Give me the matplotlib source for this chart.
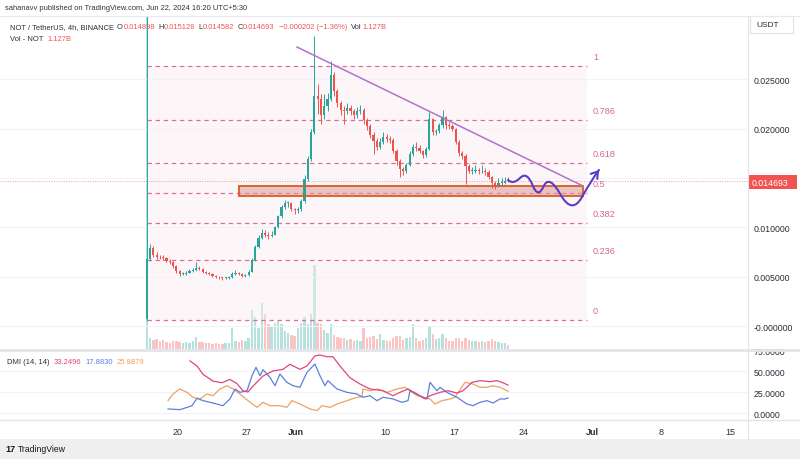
import numpy as np
import pandas as pd
import matplotlib
matplotlib.use("Agg")
import matplotlib.pyplot as plt
from matplotlib.patches import Rectangle, PathPatch
from matplotlib.path import Path
from matplotlib.lines import Line2D

plt.rcParams['font.family'] = ['Liberation Sans', 'DejaVu Sans']

# ---------------- data (8h candles) ----------------
first_open = 0.0008
closes = [0.00682, 0.00793, 0.00722, 0.00702, 0.00697, 0.00692, 0.00662, 0.00652, 0.00611, 0.00561,
          0.00530, 0.00535, 0.00545, 0.00561, 0.00571, 0.00591, 0.00581, 0.00551, 0.00540, 0.00530,
          0.00510, 0.00505, 0.00495, 0.00490, 0.00490, 0.00500, 0.00530, 0.00545, 0.00530, 0.00510,
          0.00520, 0.00551, 0.00672, 0.00803, 0.00894, 0.00944, 0.00924, 0.00914, 0.00929, 0.01005,
          0.01116, 0.01207, 0.01247, 0.01247, 0.01187, 0.01172, 0.01187, 0.01268, 0.01490, 0.01692,
          0.01965, 0.02328, 0.02298, 0.02136, 0.02227, 0.02298, 0.02540, 0.02379, 0.02258, 0.02187,
          0.02177, 0.02207, 0.02177, 0.02136, 0.02177, 0.02187, 0.02086, 0.02025, 0.01934, 0.01874,
          0.01813, 0.01864, 0.01914, 0.01894, 0.01884, 0.01773, 0.01671, 0.01591, 0.01571, 0.01631,
          0.01742, 0.01813, 0.01803, 0.01773, 0.01732, 0.01793, 0.02096, 0.01965, 0.01975, 0.02035,
          0.02116, 0.02035, 0.02025, 0.01995, 0.01864, 0.01753, 0.01722, 0.01621, 0.01571, 0.01571,
          0.01581, 0.01566, 0.01571, 0.01561, 0.01510, 0.01449, 0.01424, 0.01449, 0.01449, 0.01470,
          0.014693]
highs = [0.0320, 0.0083, 0.0081, 0.0075, 0.0072, 0.0072, 0.0070, 0.0068, 0.0066, 0.0062,
         0.0057, 0.0055, 0.0056, 0.0058, 0.0059, 0.0065, 0.0061, 0.0059, 0.0056, 0.0055,
         0.0054, 0.0052, 0.0051, 0.0050, 0.0050, 0.0051, 0.0055, 0.0057, 0.0055, 0.0054,
         0.0053, 0.0057, 0.0069, 0.0082, 0.0092, 0.0098, 0.0097, 0.0095, 0.0096, 0.0102,
         0.0113, 0.0123, 0.0128, 0.0127, 0.0126, 0.0120, 0.0121, 0.0129, 0.0153, 0.0172,
         0.0200, 0.0293, 0.0245, 0.0235, 0.0235, 0.0236, 0.0268, 0.0257, 0.0240, 0.0228,
         0.0223, 0.0226, 0.0224, 0.0220, 0.0222, 0.0224, 0.0221, 0.0211, 0.0205, 0.0196,
         0.0190, 0.0190, 0.0196, 0.0194, 0.0192, 0.0190, 0.0179, 0.0169, 0.0161, 0.0165,
         0.0177, 0.0184, 0.0186, 0.0183, 0.0178, 0.0181, 0.0217, 0.0211, 0.0200, 0.0206,
         0.0219, 0.0213, 0.0207, 0.0205, 0.0201, 0.0188, 0.0177, 0.0174, 0.0164, 0.0161,
         0.0163, 0.0160, 0.0163, 0.0160, 0.0158, 0.0152, 0.0147, 0.0150, 0.0150, 0.0151,
         0.015128]
lows = [0.0006, 0.0066, 0.0070, 0.0068, 0.0068, 0.0067, 0.0065, 0.0063, 0.0059, 0.0054,
        0.0051, 0.0052, 0.0052, 0.0054, 0.0055, 0.0056, 0.0057, 0.0054, 0.0053, 0.0052,
        0.0050, 0.0049, 0.0048, 0.0047, 0.0048, 0.0048, 0.0049, 0.0052, 0.0052, 0.0050,
        0.0050, 0.0051, 0.0055, 0.0066, 0.0079, 0.0088, 0.0090, 0.0088, 0.0090, 0.0092,
        0.0099, 0.0110, 0.0119, 0.0121, 0.0117, 0.0114, 0.0115, 0.0117, 0.0125, 0.0147,
        0.0167, 0.0194, 0.0215, 0.0205, 0.0210, 0.0218, 0.0228, 0.0233, 0.0222, 0.0214,
        0.0205, 0.0215, 0.0214, 0.0210, 0.0211, 0.0215, 0.0205, 0.0198, 0.0190, 0.0174,
        0.0178, 0.0179, 0.0184, 0.0186, 0.0185, 0.0175, 0.0163, 0.0151, 0.0153, 0.0155,
        0.0162, 0.0172, 0.0177, 0.0175, 0.0170, 0.0171, 0.0178, 0.0193, 0.0193, 0.0195,
        0.0201, 0.0200, 0.0199, 0.0197, 0.0184, 0.0172, 0.0169, 0.0144, 0.0155, 0.0154,
        0.0155, 0.0154, 0.0155, 0.0153, 0.0149, 0.0140, 0.0139, 0.0141, 0.0142, 0.0144,
        0.014582]
volumes_b = [150, 3.0, 2.5, 2.8, 2.2, 2.6, 2.0, 1.8, 2.2, 2.4,
             1.9, 1.7, 2.0, 1.8, 2.2, 3.4, 1.9, 2.0, 1.6, 1.8,
             1.5, 1.7, 1.4, 1.5, 1.6, 1.8, 6.0, 2.4, 2.0, 2.6,
             2.2, 3.2, 11.0, 9.0, 6.0, 13.0, 10.0, 7.0, 6.5, 7.5,
             8.0, 7.0, 5.0, 4.5, 4.0, 3.8, 6.0, 7.5, 9.0, 7.0,
             10.0, 24.0, 7.5, 7.0, 5.5, 4.5, 7.0, 4.0, 3.5, 3.0,
             3.2, 2.5, 2.8, 2.4, 2.6, 2.2, 6.0, 3.0, 3.4, 3.8,
             2.8, 4.2, 2.6, 2.4, 2.2, 3.0, 3.6, 3.8, 2.6, 3.0,
             3.4, 7.2, 3.0, 2.4, 2.6, 3.0, 6.5, 4.2, 2.8, 3.0,
             4.4, 3.0, 2.4, 2.2, 3.2, 3.0, 2.4, 3.0, 2.6, 2.2,
             2.4, 2.0, 2.2, 1.9, 2.4, 2.8, 2.2, 2.0, 1.8, 1.6,
             1.127]

# DMI (days from 2024-05-20, value)
adx_days = [1.22, 1.93, 2.54, 3.55, 4.46, 5.27, 5.98, 6.59, 7.10, 7.61, 8.62, 9.63, 10.65, 11.36,
            12.37, 13.08, 13.89, 14.40, 15.11, 15.72, 16.43, 17.44, 18.46, 19.47, 20.79, 21.81,
            22.52, 23.33, 24.24, 25.05, 25.56, 26.57, 27.38, 28.30, 28.90, 29.82, 30.63, 31.64,
            32.35, 32.86, 33.47]
adx_vals = [62, 56, 46, 38, 36, 40, 35, 26.5, 25, 32, 44, 50, 52, 58,
            52, 56, 68, 69, 67, 67, 56, 42, 34.5, 28.6, 26.5, 20.6,
            24.6, 28.6, 22.6, 16.7, 20.6, 24.6, 26.5, 23.8, 26.5, 36.5, 38.5, 37.3,
            38.5, 36.5, 33.2496]
pdi_days = [-1.01, 0.20, 0.91, 1.42, 1.93, 2.54, 3.55, 4.56, 5.27, 5.78, 6.29, 7.00, 7.51, 7.91,
            8.32, 8.62, 9.33, 9.84, 10.34, 11.05, 11.66, 12.37, 13.08, 13.89, 14.40, 14.91, 15.21,
            16.13, 17.14, 18.15, 18.76, 19.47, 20.18, 20.79, 21.81, 22.72, 23.33, 23.53, 24.54,
            25.25, 25.56, 26.27, 26.57, 27.28, 28.30, 29.31, 29.92, 30.63, 31.34, 31.95, 32.66,
            33.16, 33.47]
pdi_vals = [4.8, 4, 6.7, 8.7, 17.5, 14.7, 11.9, 8.7, 16.7, 28.6, 24.6, 26.5, 44.4, 54.4,
            44.4, 51.6, 42.5, 32.5, 46.4, 36.5, 32.5, 30.6, 48.4, 58.3, 44.4, 32.5, 38.5,
            28.6, 24.6, 22.6, 18.7, 20.6, 14.7, 18.7, 16.7, 12.7, 14.7, 26.5, 20.6,
            16.7, 36.5, 26.5, 30.6, 24.6, 18.7, 10.7, 8.7, 12.7, 14.7, 11.9, 16.7,
            16.7, 17.8830]
mdi_days = [-1.01, -0.51, 0.20, 0.91, 1.52, 2.23, 2.94, 3.55, 4.26, 4.97, 5.58, 6.29, 7.10, 8.01,
            8.62, 9.33, 10.34, 11.05, 11.56, 12.37, 13.39, 14.10, 14.60, 15.42, 16.13, 17.14,
            18.15, 18.66, 18.76, 19.47, 20.28, 21.20, 22.21, 23.02, 23.53, 24.24, 24.85, 25.56,
            26.06, 26.77, 27.59, 28.09, 29.11, 29.92, 30.63, 31.34, 31.95, 32.66, 33.47]
mdi_vals = [14.7, 22.6, 28.6, 24.6, 18.7, 16.7, 22.6, 20.6, 28.6, 32.5, 28.6, 22.6, 14.7, 6.7,
            12.7, 8.7, 8.7, 6.7, 14.7, 10.7, 4.8, 2.8, 8.7, 6.7, 10.7, 14.7,
            18.7, 19.5, 28.6, 26.5, 28.6, 24.6, 28.6, 30.6, 26.5, 20.6, 18.7, 16.7,
            10.7, 14.7, 16.7, 18.7, 36.5, 34.5, 30.6, 30.6, 32.5, 30.6, 25.8879]

# drawings (days from 2024-05-20, price)
fib_start, fib_end = -3.14, 41.48
fib_low, fib_high = 0.00066, 0.02636
fib_levels = [1, 0.786, 0.618, 0.5, 0.382, 0.236, 0]
fib_labels = ["1", "0.786", "0.618", "0.5", "0.382", "0.236", "0"]
trend_days = [12.07, 41.08]
trend_prices = [0.02823, 0.01419]
box_days = [6.19, 41.08]
box_prices = [0.01318, 0.01419]
wave_days = [33.47, 33.98, 35.40, 36.51, 37.63, 39.96, 41.99, 42.70]
wave_prices = [0.014798, 0.014293, 0.015707, 0.012879, 0.015404, 0.011263, 0.014899, 0.015808]
last_price = 0.014693

price_ticks = [0.025, 0.020, 0.015, 0.010, 0.005, 0.0]
price_tick_labels = ["0.025000", "0.020000", "", "0.010000", "0.005000", "-0.000000"]
dmi_ticks = [0, 25, 50, 75]
dmi_tick_labels = ["0.0000", "25.0000", "50.0000", "75.0000"]
date_ticks = [0, 7, 12, 21, 28, 35, 42, 49, 56]
date_labels = ["20", "27", "Jun", "10", "17", "24", "Jul", "8", "15"]

# ---------------- figure ----------------
W, H = 800, 460
fig = plt.figure(figsize=(8, 4.6), dpi=100)
fig.patch.set_facecolor('white')


def fx(px):
    return px / W


def fy(py):
    return 1 - py / H


UP, DOWN = '#26a69a', '#ef5350'
TXT = '#2a2e39'

times = pd.date_range("2024-05-16 20:00", periods=len(closes), freq="8h")
days = ((times - pd.Timestamp("2024-05-20")) / pd.Timedelta(days=1)).to_numpy()
opens = np.array([first_open] + closes[:-1])
closes_a = np.array(closes)
up = closes_a >= opens
colors = np.where(up, UP, DOWN)

rect_main = [0, fy(350), fx(748), (350 - 17) / H]
axv = fig.add_axes(rect_main)
ax = fig.add_axes(rect_main, sharex=axv)
ax.set_facecolor('none')
axv.set_zorder(0)
ax.set_zorder(1)

xlim = (-18.05, 57.81)
axv.set_xlim(*xlim)
axv.set_ylim(0, 95)
axv.bar(days, volumes_b, width=0.24, color=colors, alpha=0.33, linewidth=0)
axv.axis('off')

ax.set_ylim(-0.002273, 0.031364)
ax.set_yticks(price_ticks)
ax.set_yticklabels(price_tick_labels)
ax.grid(axis='y', color='#f0f3fa', lw=0.8)
ax.yaxis.tick_right()
ax.tick_params(axis='y', length=0, pad=4, labelsize=6.3, labelcolor=TXT)
ax.tick_params(axis='x', bottom=False, labelbottom=False)
for s in ax.spines.values():
    s.set_visible(False)

# fib retracement
span = fib_high - fib_low
ax.add_patch(Rectangle((fib_start, fib_low), fib_end - fib_start, span,
                       facecolor='#fbe9f0', alpha=0.4, lw=0, zorder=0.5))
for lvl, lab in zip(fib_levels, fib_labels):
    p = fib_low + lvl * span
    ax.plot([fib_start, fib_end], [p, p], color='#e26d92', lw=0.9,
            dashes=(3.5, 3), zorder=1)
    ax.annotate(lab, (fib_end + 0.6, p), xytext=(0, 6.5), textcoords='offset points',
                color='#d4689a', fontsize=6.6, va='center', ha='left')

# support box
ax.add_patch(Rectangle((box_days[0], box_prices[0]), box_days[1] - box_days[0],
                       box_prices[1] - box_prices[0], facecolor='#d99a9a', alpha=0.55,
                       edgecolor='none', zorder=1.5))
ax.add_patch(Rectangle((box_days[0], box_prices[0]), box_days[1] - box_days[0],
                       box_prices[1] - box_prices[0], facecolor='none',
                       edgecolor='#dd5a1c', lw=1.3, zorder=3))

# current price line
ax.axhline(last_price, color='#ef5350', lw=0.7, ls=(0, (1, 1.5)), alpha=0.6, zorder=1)

# candles
ax.vlines(days, lows, highs, colors=colors, lw=0.7, zorder=2)
body_lo = np.minimum(opens, closes_a)
body_h = np.maximum(np.abs(closes_a - opens), 0.00006)
ax.bar(days, body_h, bottom=body_lo, width=0.22, color=colors, lw=0, zorder=2.2)

# trend line
ax.plot(trend_days, trend_prices, color='#b171d0', lw=1.1, zorder=3)

# wave projection (quadratic bezier chain)
pts = list(zip(wave_days, wave_prices))
ctrl = pts[1:-1]
verts = [pts[0]]
codes = [Path.MOVETO]
for k, c in enumerate(ctrl):
    if k < len(ctrl) - 1:
        nxt = ((c[0] + ctrl[k + 1][0]) / 2, (c[1] + ctrl[k + 1][1]) / 2)
    else:
        nxt = pts[-1]
    verts += [c, nxt]
    codes += [Path.CURVE3, Path.CURVE3]
ax.add_patch(PathPatch(Path(verts, codes), facecolor='none', edgecolor='#5b3cc4',
                       lw=1.5, zorder=4, capstyle='round'))
end = pts[-1]
prev = ctrl[-1]
tail = (end[0] - 0.25 * (end[0] - prev[0]), end[1] - 0.25 * (end[1] - prev[1]))
ax.annotate('', xy=end, xytext=tail,
            arrowprops=dict(arrowstyle='->,head_length=0.45,head_width=0.3', color='#5b3cc4',
                            lw=1.5, shrinkA=0, shrinkB=0), zorder=4)

# ---------------- DMI pane ----------------
axd = fig.add_axes([0, fy(420), fx(748), 70 / H], sharex=axv)
axd.set_ylim(-7.14, 76.2)
axd.plot(mdi_days, mdi_vals, color='#f0a060', lw=0.9)
axd.plot(pdi_days, pdi_vals, color='#5b80dc', lw=0.9)
axd.plot(adx_days, adx_vals, color='#e0457d', lw=0.9)
axd.set_yticks(dmi_ticks)
axd.set_yticklabels(dmi_tick_labels)
axd.grid(axis='y', color='#f0f3fa', lw=0.8)
axd.yaxis.tick_right()
axd.tick_params(axis='y', length=0, pad=4, labelsize=6.3, labelcolor=TXT)
axd.set_xticks(date_ticks)
axd.set_xticklabels(date_labels)
axd.tick_params(axis='x', length=0, pad=6, labelsize=6.5, labelcolor=TXT)
for t in axd.get_xticklabels():
    if t.get_text() in ("Jun", "Jul"):
        t.set_fontweight('bold')
for s in axd.spines.values():
    s.set_visible(False)
axd.set_xlim(*xlim)

# ---------------- frame lines / separators ----------------
fig.add_artist(Line2D([0, 1], [fy(16.5), fy(16.5)], color='#e6e8ee', lw=0.8))
fig.add_artist(Line2D([0, 1], [fy(350.5), fy(350.5)], color='#e3e5ea', lw=2.0))
fig.add_artist(Line2D([0, 1], [fy(420.5), fy(420.5)], color='#e3e5ea', lw=1.0))
fig.add_artist(Line2D([fx(748), fx(748)], [fy(16.5), fy(440)], color='#e3e5ea', lw=0.8))
fig.add_artist(Rectangle((0, 0), 1, 20 / H, transform=fig.transFigure,
                         facecolor='#efefef', edgecolor='none'))

# last price label on axis
fig.add_artist(Rectangle((fx(748), fy(190)), fx(49), 14 / H, transform=fig.transFigure,
                         facecolor='#f05350', edgecolor='none'))
fig.text(fx(752), fy(183), "0.014693", color='white', fontsize=6.3, va='center', ha='left')

# USDT box
fig.add_artist(Rectangle((fx(750), fy(34)), fx(43), 17 / H, transform=fig.transFigure,
                         facecolor='white', edgecolor='#dfe1e6', lw=0.8))
fig.text(fx(756), fy(25.5), "USDT", color=TXT, fontsize=6.0, va='center', ha='left')

# ---------------- texts ----------------
renderer = fig.canvas.get_renderer()


def rainbow(x_px, y_px, parts, size):
    x = x_px
    for s, c, gap in parts:
        x += gap
        t = fig.text(fx(x), fy(y_px), s, color=c, fontsize=size, va='center', ha='left')
        x += t.get_window_extent(renderer).width


RED = '#ef5350'
fig.text(fx(5), fy(8), "sahanavv published on TradingView.com, Jun 22, 2024 16:20 UTC+5:30",
         color='#333333', fontsize=5.4, va='center', ha='left')
rainbow(10, 27.5, [("NOT / TetherUS, 4h, BINANCE", TXT, 0), ("O", TXT, 3), ("0.014898", RED, 0.5),
                   ("H", TXT, 3), ("0.015128", RED, 0.5), ("L", TXT, 3), ("0.014582", RED, 0.5),
                   ("C", TXT, 3), ("0.014693", RED, 0.5), ("\u22120.000202 (\u22121.36%)", RED, 4),
                   ("Vol", TXT, 4), ("1.127B", RED, 0.5)], 5.4)
rainbow(10, 40, [("Vol - NOT", TXT, 0), ("1.127B", RED, 4)], 5.4)
rainbow(7, 363, [("DMI (14, 14)", TXT, 0), ("33.2496", '#e0457d', 4),
                 ("17.8830", '#5b80dc', 4), ("25.8879", '#f0a060', 4)], 5.5)
fig.text(fx(5), fy(449.5), "17", color='#131722', fontsize=6.5, fontweight='bold',
         va='center', ha='left')
fig.text(fx(18), fy(449.5), "TradingView", color='#131722', fontsize=6.2, va='center', ha='left')

fig.savefig("out.png", dpi=100, facecolor='white')
